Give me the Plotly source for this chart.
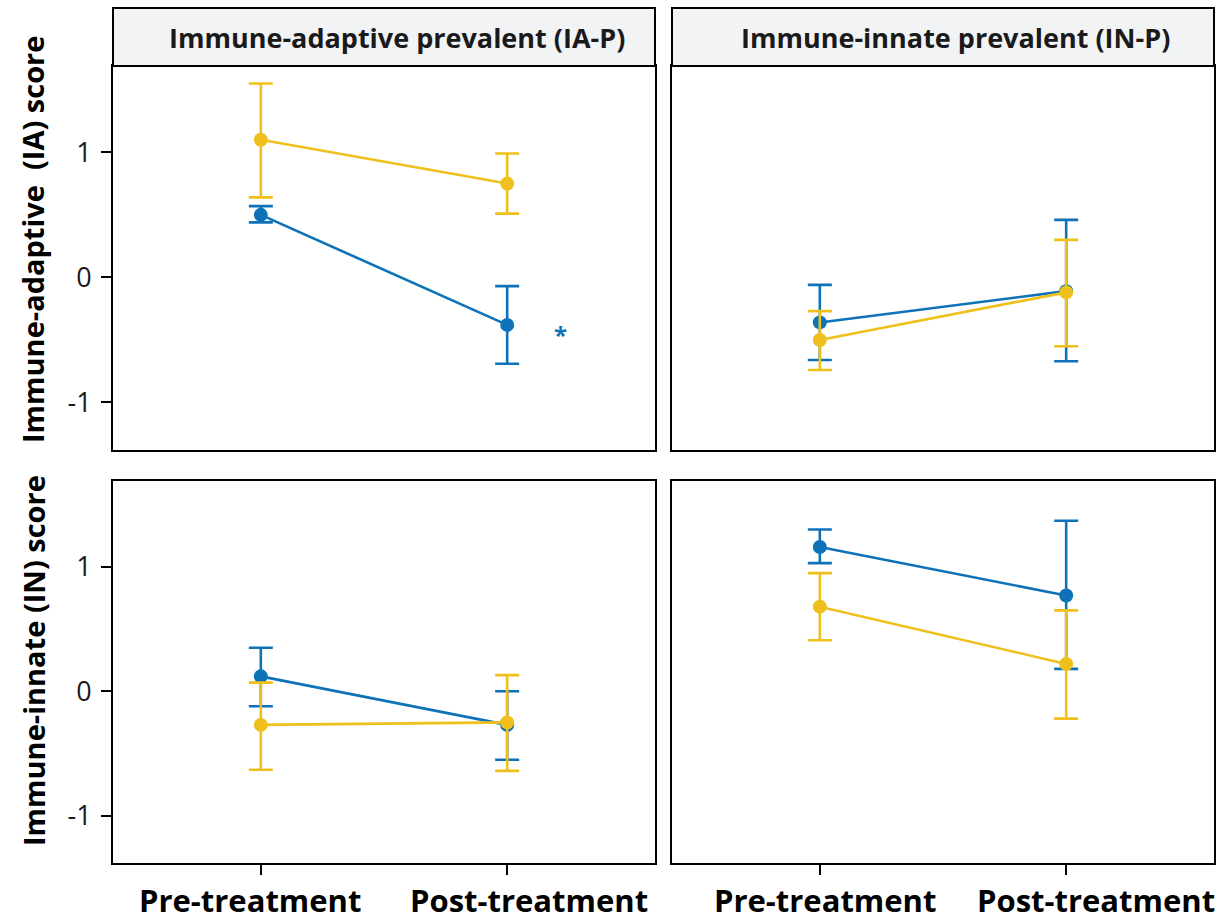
import plotly.graph_objects as go
from plotly.subplots import make_subplots

# ---------------- data ----------------
timepoints = ["Pre-treatment", "Post-treatment"]
panel_titles = ["Immune-adaptive prevalent (IA-P)", "Immune-innate prevalent (IN-P)"]
row_titles = ["Immune-adaptive  (IA) score", "Immune-innate (IN) score"]
y_ticks = [-1, 0, 1]

# Row 1: IA score ; Col 1: IA-P, Col 2: IN-P
ia_iap_blue_mean = [0.50, -0.38]
ia_iap_blue_low = [0.44, -0.69]
ia_iap_blue_high = [0.57, -0.07]
ia_iap_yellow_mean = [1.10, 0.75]
ia_iap_yellow_low = [0.64, 0.51]
ia_iap_yellow_high = [1.55, 0.99]

ia_inp_blue_mean = [-0.36, -0.11]
ia_inp_blue_low = [-0.66, -0.67]
ia_inp_blue_high = [-0.06, 0.46]
ia_inp_yellow_mean = [-0.50, -0.12]
ia_inp_yellow_low = [-0.74, -0.55]
ia_inp_yellow_high = [-0.27, 0.30]

# Row 2: IN score
in_iap_blue_mean = [0.12, -0.27]
in_iap_blue_low = [-0.12, -0.55]
in_iap_blue_high = [0.35, 0.00]
in_iap_yellow_mean = [-0.27, -0.25]
in_iap_yellow_low = [-0.63, -0.64]
in_iap_yellow_high = [0.07, 0.13]

in_inp_blue_mean = [1.16, 0.77]
in_inp_blue_low = [1.03, 0.18]
in_inp_blue_high = [1.30, 1.37]
in_inp_yellow_mean = [0.68, 0.22]
in_inp_yellow_low = [0.41, -0.22]
in_inp_yellow_high = [0.95, 0.65]

BLUE = "#0E72B8"
YELLOW = "#EFC01C"

W, H = 1232, 923

panels = {
    (1, 1): [(ia_iap_blue_mean, ia_iap_blue_low, ia_iap_blue_high, BLUE),
             (ia_iap_yellow_mean, ia_iap_yellow_low, ia_iap_yellow_high, YELLOW)],
    (1, 2): [(ia_inp_blue_mean, ia_inp_blue_low, ia_inp_blue_high, BLUE),
             (ia_inp_yellow_mean, ia_inp_yellow_low, ia_inp_yellow_high, YELLOW)],
    (2, 1): [(in_iap_blue_mean, in_iap_blue_low, in_iap_blue_high, BLUE),
             (in_iap_yellow_mean, in_iap_yellow_low, in_iap_yellow_high, YELLOW)],
    (2, 2): [(in_inp_blue_mean, in_inp_blue_low, in_inp_blue_high, BLUE),
             (in_inp_yellow_mean, in_inp_yellow_low, in_inp_yellow_high, YELLOW)],
}

fig = make_subplots(rows=2, cols=2)

xpos = list(range(len(timepoints)))
for (r, c), series in panels.items():
    for mean, low, high, col in series:
        fig.add_trace(go.Scatter(
            x=xpos, y=mean, mode="lines+markers",
            line=dict(color=col, width=2.6),
            marker=dict(color=col, size=14),
            error_y=dict(type="data", symmetric=False,
                         array=[h - m for h, m in zip(high, mean)],
                         arrayminus=[m - l for m, l in zip(mean, low)],
                         color=col, thickness=2.6, width=12),
            showlegend=False, hoverinfo="skip"), row=r, col=c)

# domains in pixels
xdom = [(113, 655), (672, 1214)]
ydom = [(66, 450), (481, 863)]

def px_x(a, b):
    return [a / W, b / W]

def px_y(top, bottom):
    return [1 - bottom / H, 1 - top / H]

font_reg = "Open Sans, Noto Sans, sans-serif"

for r in (1, 2):
    for c in (1, 2):
        idx = (r - 1) * 2 + c
        xa = "xaxis" if idx == 1 else f"xaxis{idx}"
        ya = "yaxis" if idx == 1 else f"yaxis{idx}"
        fig.layout[xa].update(
            domain=px_x(*xdom[c - 1]), range=[-0.6, 1.6],
            tickmode="array", tickvals=xpos,
            ticks="outside" if r == 2 else "", ticklen=10, tickwidth=2, tickcolor="black",
            showticklabels=False,
            showline=True, mirror=True, linecolor="black", linewidth=2,
            showgrid=False, zeroline=False, fixedrange=True)
        fig.layout[ya].update(
            domain=px_y(*ydom[r - 1]), range=[-1.38, 1.69],
            tickmode="array", tickvals=y_ticks, ticktext=[str(v) for v in y_ticks],
            ticks="outside" if c == 1 else "", ticklen=10, tickwidth=2, tickcolor="black",
            showticklabels=(c == 1), ticklabelstandoff=4,
            tickfont=dict(family=font_reg, size=27, color="#1a1a1a"),
            showline=True, mirror=True, linecolor="black", linewidth=2,
            showgrid=False, zeroline=False, fixedrange=True)

shapes = []
annotations = []

# strips
strip_centers = [397, 955]
for c in (1, 2):
    a, b = xdom[c - 1]
    shapes.append(dict(type="rect", xref="paper", yref="paper",
                       x0=a / W, x1=b / W, y0=1 - 66 / H, y1=1 - 8 / H,
                       fillcolor="#F2F3F5", line=dict(color="black", width=2), layer="above"))
    annotations.append(dict(text=panel_titles[c - 1], xref="paper", yref="paper",
                            x=strip_centers[c - 1] / W, y=1 - 37 / H, showarrow=False,
                            xanchor="center", yanchor="middle",
                            font=dict(family=font_reg, size=27, color="#1a1a1a", weight="bold")))

# x category labels (bottom row), placed as in the reference
label_centers = [[250, 529], [825, 1096]]
for c in (1, 2):
    for i, lab in enumerate(timepoints):
        annotations.append(dict(text=lab, xref="paper", yref="paper",
                                x=label_centers[c - 1][i] / W, y=0, showarrow=False,
                                xanchor="center", yanchor="bottom",
                                font=dict(family=font_reg, size=31, color="black", weight="bold")))

# row titles
row_title_centers = [240, 661]
for r in (1, 2):
    annotations.append(dict(text=row_titles[r - 1], xref="paper", yref="paper",
                            x=33 / W, y=1 - row_title_centers[r - 1] / H, textangle=-90,
                            showarrow=False, xanchor="center", yanchor="middle",
                            font=dict(family=font_reg, size=29, color="black", weight="bold")))

# significance marker
annotations.append(dict(text="*", xref="x", yref="y", x=1.215, y=-0.46, showarrow=False,
                        xanchor="center", yanchor="middle",
                        font=dict(family=font_reg, size=24, color=BLUE, weight="bold")))

fig.update_layout(width=W, height=H, margin=dict(l=0, r=0, t=0, b=0),
                  paper_bgcolor="white", plot_bgcolor="white",
                  shapes=shapes, annotations=annotations, showlegend=False)

fig.write_html("out.html", config={"displayModeBar": False},
               post_script="document.body.style.margin='0px';document.body.style.overflow='hidden';")
